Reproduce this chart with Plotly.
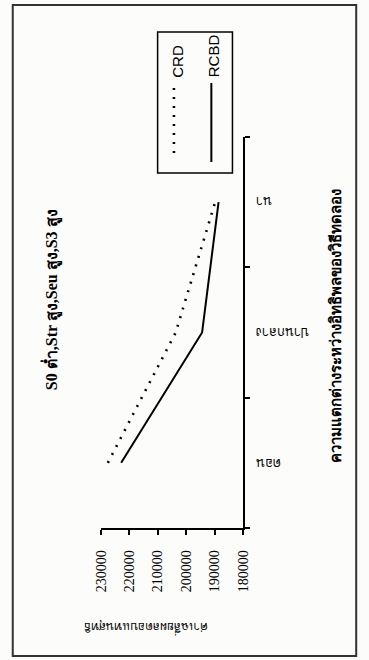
import plotly.graph_objects as go

W, H = 369, 660

# ---- data ----
categories = ["ดอน", "ปานกลาง", "นา"]
crd_values = [227600, 203700, 189800]
rcbd_values = [222900, 194400, 188600]
value_ticks = [180000, 190000, 200000, 210000, 220000, 230000]
series_names = ["CRD", "RCBD"]
title_text = "S0 ต่ำ,Str สูง,Seu สูง,S3 สูง"
cat_axis_title = "ความแตกต่างระหว่างอิทธิพลของวิธีทดลอง"
val_axis_title = "ค่าเฉลี่ยผลตอบแทนสุทธิ"


def px(x):
    return x / W


def py(y):
    return 1 - y / H


fig = go.Figure()
fig.add_trace(go.Scatter(
    x=crd_values, y=categories, mode="lines", name=series_names[0],
    line=dict(color="black", width=2.6, dash="2px,7px"), showlegend=False))
fig.add_trace(go.Scatter(
    x=rcbd_values, y=categories, mode="lines", name=series_names[1],
    line=dict(color="black", width=2), showlegend=False))

serif = "Liberation Serif, Times New Roman, serif"

fig.update_layout(
    width=W, height=H,
    margin=dict(l=0, r=0, t=0, b=0),
    paper_bgcolor="#fcfcfa", plot_bgcolor="rgba(0,0,0,0)",
    showlegend=False,
    xaxis=dict(
        domain=[px(98), px(246)],
        range=[230000, 180000],
        tickvals=value_ticks,
        ticktext=[str(v) for v in value_ticks],
        tickangle=-90,
        ticks="outside", ticklen=5, tickwidth=1.5, tickcolor="black",
        ticklabelstandoff=10,
        showline=True, linecolor="black", linewidth=1.5,
        showgrid=False, zeroline=False,
        tickfont=dict(family=serif, size=14, color="black"),
        anchor="y",
    ),
    yaxis=dict(
        domain=[py(528), py(137)],
        type="category",
        categoryorder="array", categoryarray=categories,
        range=[-0.5, 2.5],
        side="right",
        tickson="boundaries",
        ticks="outside", ticklen=5, tickwidth=1.5, tickcolor="black",
        showticklabels=False,
        showline=True, linecolor="black", linewidth=1.5,
        showgrid=False, zeroline=False,
        anchor="x",
    ),
)

annotations = []
# category labels (upside-down)
for c in categories:
    annotations.append(dict(
        x=px(258), xref="paper", y=c, yref="y", text=c, textangle=180,
        showarrow=False, xanchor="left", yanchor="middle",
        font=dict(family=serif, size=13, color="black")))

# title
annotations.append(dict(
    x=px(46), y=py(300), xref="paper", yref="paper", text="<b>" + title_text + "</b>",
    textangle=-90, showarrow=False, xanchor="center", yanchor="middle",
    font=dict(family=serif, size=16, color="black")))
# category axis title
annotations.append(dict(
    x=px(342), y=py(326), xref="paper", yref="paper", text="<b>" + cat_axis_title + "</b>",
    textangle=-90, showarrow=False, xanchor="center", yanchor="middle",
    font=dict(family=serif, size=15, color="black")))
# value axis title (upside-down)
annotations.append(dict(
    x=px(145), y=py(628), xref="paper", yref="paper", text=val_axis_title,
    textangle=180, showarrow=False, xanchor="center", yanchor="middle",
    font=dict(family=serif, size=12, color="black")))

# legend texts
annotations.append(dict(
    x=px(178), y=py(61), xref="paper", yref="paper", text=series_names[0],
    textangle=-90, showarrow=False, xanchor="center", yanchor="middle",
    font=dict(family="Liberation Sans, Arial, sans-serif", size=15, color="black")))
annotations.append(dict(
    x=px(216), y=py(56), xref="paper", yref="paper", text=series_names[1],
    textangle=-90, showarrow=False, xanchor="center", yanchor="middle",
    font=dict(family="Liberation Sans, Arial, sans-serif", size=15, color="black")))

shapes = [
    # outer border
    dict(type="rect", xref="paper", yref="paper", x0=px(6), x1=px(364), y0=py(5), y1=py(656),
         line=dict(color="#333333", width=2)),
    # legend box
    dict(type="rect", xref="paper", yref="paper", x0=px(157), x1=px(235), y0=py(32), y1=py(173),
         line=dict(color="black", width=1.5), fillcolor="rgba(0,0,0,0)"),
    # legend samples
    dict(type="line", xref="paper", yref="paper", x0=px(174), x1=px(174), y0=py(88), y1=py(160),
         line=dict(color="black", width=2.6, dash="2px,7px")),
    dict(type="line", xref="paper", yref="paper", x0=px(213), x1=px(213), y0=py(83), y1=py(162),
         line=dict(color="black", width=2)),
]

fig.update_layout(annotations=annotations, shapes=shapes)
fig.write_html(
    "out.html",
    config={"displayModeBar": False},
    post_script="document.body.style.margin='0';document.body.style.padding='0';",
)
